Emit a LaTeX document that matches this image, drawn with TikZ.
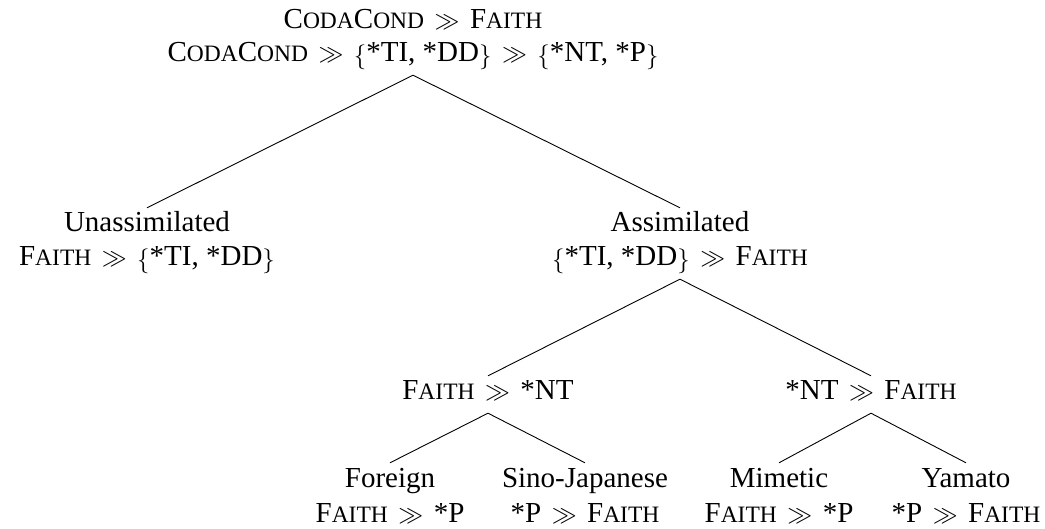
\documentclass[tikz,border=0pt]{standalone}
\usepackage{fontspec}
\setmainfont{Liberation Serif}
% small capitals, faked by setting capitals at a reduced size
\newcommand{\smcap}[1]{{\fontsize{23.5}{23.5}\selectfont #1}}
\newcommand{\Faith}{F\smcap{AITH}}
\newcommand{\Coda}{C\smcap{ODA}C\smcap{OND}}
% ranking symbol with its surrounding space
\newcommand{\dom}{\hspace{10.5pt}{\fontsize{34}{34}\selectfont$\gg$}\hspace{10.5pt}}
% set braces, a little larger than the text
\newcommand{\lb}{\raisebox{-2pt}{\fontsize{33}{33}\selectfont$\{$}}
\newcommand{\rb}{\raisebox{-2pt}{\fontsize{33}{33}\selectfont$\}$}}
\begin{document}
\begin{tikzpicture}[x=1pt,y=-1pt,
  lbl/.style={anchor=base,inner xsep=2pt,inner ysep=5pt,
    text height=19pt,text depth=8pt,
    font=\fontsize{29}{34.8}\selectfont},
  branch/.style={line width=0.9pt}]
\useasboundingbox (0,0) rectangle (1045,529);
% root
\node[lbl] (root1) at (413,29) {\Coda\dom\Faith};
\node[lbl] (root2) at (413,62) {\Coda\dom\lb*TI, *DD\rb\dom\lb*NT, *P\rb};
% first split
\node[lbl] (unA) at (147,232) {Unassimilated};
\node[lbl] (unB) at (147,266) {\Faith\dom\lb*TI, *DD\rb};
\node[lbl] (asA) at (680,232) {Assimilated};
\node[lbl] (asB) at (680,266) {\lb*TI, *DD\rb\dom\Faith};
% second split
\node[lbl] (fnt) at (488,400) {\Faith\dom*NT};
\node[lbl] (ntf) at (871,400) {*NT\dom\Faith};
% leaves
\node[lbl] (forA) at (390,487) {Foreign};
\node[lbl] (forB) at (390,522) {\Faith\dom*P};
\node[lbl] (sinA) at (585,487) {Sino-Japanese};
\node[lbl] (sinB) at (585,522) {*P\dom\Faith};
\node[lbl] (mimA) at (779,487) {Mimetic};
\node[lbl] (mimB) at (779,522) {\Faith\dom*P};
\node[lbl] (yamA) at (966,487) {Yamato};
\node[lbl] (yamB) at (966,522) {*P\dom\Faith};
% branches
\draw[branch] (root2.south) -- (unA.north);
\draw[branch] (root2.south) -- (asA.north);
\draw[branch] (asB.south) -- (fnt.north);
\draw[branch] (asB.south) -- (ntf.north);
\draw[branch] (fnt.south) -- (forA.north);
\draw[branch] (fnt.south) -- (sinA.north);
\draw[branch] (ntf.south) -- (mimA.north);
\draw[branch] (ntf.south) -- (yamA.north);
\end{tikzpicture}
\end{document}
